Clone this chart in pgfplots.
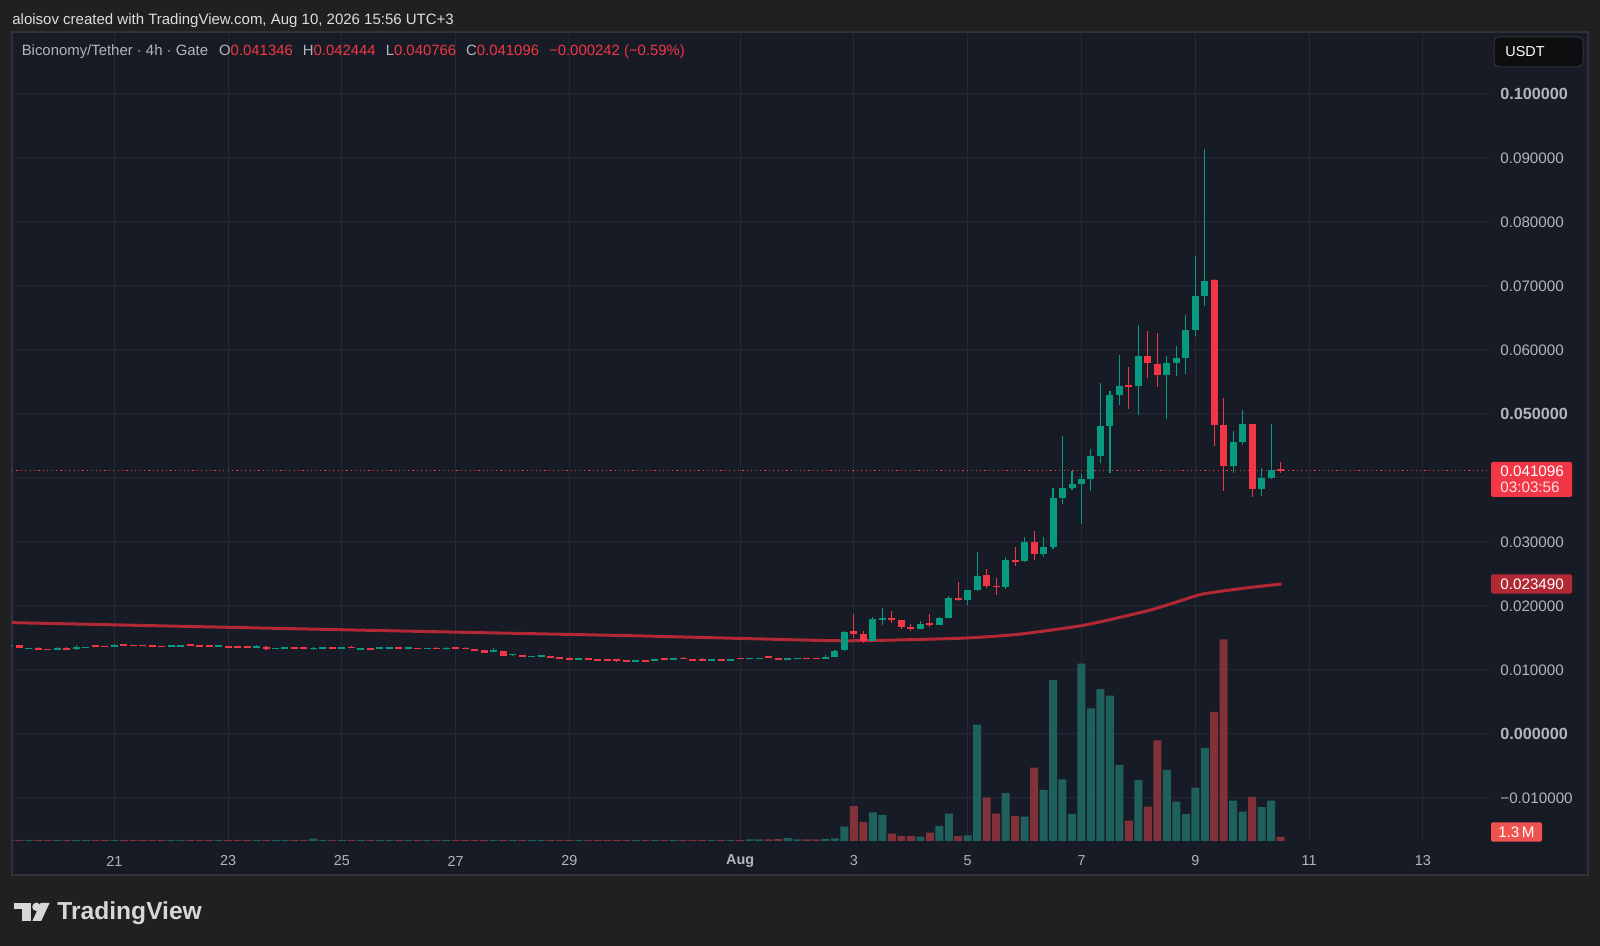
\documentclass[border=0pt]{standalone}
\usepackage{fontspec}
\setmainfont{Liberation Sans}
\usepackage{pgfplots}
\usepackage{pgfplotstable}
\pgfplotsset{compat=1.18}
\definecolor{outerbg}{RGB}{32,32,32}
\definecolor{panelbg}{RGB}{23,27,37}
\definecolor{panelborder}{RGB}{48,50,56}
\definecolor{gridcol}{RGB}{38,42,54}
\definecolor{candgreen}{RGB}{8,153,129}
\definecolor{candred}{RGB}{242,54,69}
\definecolor{volgreen}{RGB}{30,96,92}
\definecolor{volred}{RGB}{128,50,56}
\definecolor{macol}{RGB}{178,40,52}
\definecolor{axistext}{RGB}{178,181,190}
\definecolor{headtext}{RGB}{222,222,222}
\definecolor{usdtbg}{RGB}{14,14,16}
\definecolor{usdtborder}{RGB}{50,52,58}
\definecolor{pinkwhite}{RGB}{255,225,228}
\definecolor{volbox}{RGB}{239,83,80}
\definecolor{logocol}{RGB}{215,215,215}

\pgfplotstableread{
k o h l c v
-1 0.01370 0.01380 0.01365 0.01376 0.35
0 0.01385 0.01398 0.01340 0.01344 0.35
1 0.01337 0.01343 0.01335 0.01341 0.35
2 0.01335 0.01360 0.01315 0.01331 0.35
3 0.01325 0.01327 0.01319 0.01321 0.35
4 0.01318 0.01352 0.01315 0.01349 0.35
5 0.01335 0.01355 0.01318 0.01331 0.35
6 0.01323 0.01390 0.01320 0.01365 0.35
7 0.01352 0.01358 0.01350 0.01356 0.35
8 0.01377 0.01379 0.01371 0.01373 0.35
9 0.01372 0.01374 0.01366 0.01368 0.35
10 0.01354 0.01400 0.01352 0.01396 0.35
11 0.01398 0.01412 0.01390 0.01394 0.35
12 0.01387 0.01389 0.01381 0.01383 0.35
13 0.01387 0.01389 0.01381 0.01383 0.35
14 0.01377 0.01379 0.01371 0.01373 0.35
15 0.01372 0.01374 0.01366 0.01368 0.35
16 0.01373 0.01379 0.01371 0.01377 0.35
17 0.01378 0.01384 0.01376 0.01382 0.35
18 0.01401 0.01404 0.01368 0.01370 0.35
19 0.01377 0.01379 0.01371 0.01373 0.35
20 0.01377 0.01379 0.01371 0.01373 0.35
21 0.01373 0.01379 0.01371 0.01377 0.35
22 0.01367 0.01369 0.01361 0.01363 0.35
23 0.01367 0.01369 0.01361 0.01363 0.35
24 0.01367 0.01369 0.01361 0.01363 0.35
25 0.01363 0.01385 0.01350 0.01367 0.35
26 0.01365 0.01368 0.01320 0.01323 0.35
27 0.01337 0.01343 0.01335 0.01341 0.35
28 0.01347 0.01353 0.01345 0.01351 0.35
29 0.01351 0.01353 0.01345 0.01347 0.35
30 0.01346 0.01348 0.01340 0.01342 0.35
31 0.01337 0.01352 0.01320 0.01341 0.8
32 0.01347 0.01353 0.01345 0.01351 0.35
33 0.01351 0.01353 0.01345 0.01347 0.35
34 0.01347 0.01353 0.01345 0.01351 0.35
35 0.01356 0.01375 0.01345 0.01352 0.35
36 0.01331 0.01337 0.01329 0.01335 0.35
37 0.01330 0.01332 0.01324 0.01326 0.35
38 0.01347 0.01353 0.01345 0.01351 0.35
39 0.01347 0.01353 0.01345 0.01351 0.35
40 0.01351 0.01353 0.01345 0.01347 0.35
41 0.01342 0.01360 0.01330 0.01346 0.35
42 0.01341 0.01343 0.01335 0.01337 0.35
43 0.01337 0.01343 0.01335 0.01341 0.35
44 0.01341 0.01360 0.01328 0.01337 0.35
45 0.01323 0.01355 0.01320 0.01349 0.35
46 0.01351 0.01353 0.01345 0.01347 0.35
47 0.01341 0.01360 0.01325 0.01337 0.35
48 0.01320 0.01322 0.01314 0.01316 0.35
49 0.01307 0.01312 0.01268 0.01271 0.35
50 0.01292 0.01339 0.01288 0.01299 0.35
51 0.01297 0.01300 0.01220 0.01224 0.35
52 0.01243 0.01250 0.01215 0.01247 0.35
53 0.01221 0.01223 0.01215 0.01217 0.35
54 0.01212 0.01218 0.01210 0.01216 0.35
55 0.01222 0.01240 0.01212 0.01226 0.35
56 0.01219 0.01222 0.01185 0.01188 0.35
57 0.01195 0.01210 0.01185 0.01191 0.35
58 0.01193 0.01196 0.01153 0.01156 0.35
59 0.01170 0.01176 0.01168 0.01174 0.35
60 0.01174 0.01176 0.01168 0.01170 0.35
61 0.01163 0.01165 0.01157 0.01159 0.35
62 0.01158 0.01175 0.01148 0.01154 0.35
63 0.01158 0.01165 0.01120 0.01154 0.35
64 0.01148 0.01150 0.01142 0.01144 0.35
65 0.01144 0.01160 0.01130 0.01148 0.35
66 0.01148 0.01150 0.01142 0.01144 0.35
67 0.01146 0.01178 0.01143 0.01172 0.35
68 0.01179 0.01181 0.01173 0.01175 0.35
69 0.01175 0.01181 0.01173 0.01179 0.35
70 0.01184 0.01200 0.01175 0.01180 0.35
71 0.01163 0.01165 0.01157 0.01159 0.35
72 0.01177 0.01180 0.01143 0.01146 0.35
73 0.01159 0.01165 0.01157 0.01163 0.35
74 0.01163 0.01165 0.01157 0.01159 0.35
75 0.01159 0.01165 0.01157 0.01163 0.35
76 0.01184 0.01186 0.01178 0.01180 0.35
77 0.01180 0.01186 0.01178 0.01184 0.5
78 0.01180 0.01186 0.01178 0.01184 0.5
79 0.01205 0.01210 0.01199 0.01201 0.5
80 0.01182 0.01185 0.01153 0.01156 0.6
81 0.01175 0.01181 0.01173 0.01179 0.9
82 0.01180 0.01186 0.01178 0.01184 0.5
83 0.01184 0.01186 0.01178 0.01180 0.5
84 0.01184 0.01186 0.01178 0.01180 0.5
85 0.01177 0.01240 0.01172 0.01208 0.65
86 0.01203 0.01318 0.01198 0.01302 0.87
87 0.01307 0.01610 0.01300 0.01594 4.7
88 0.01604 0.01875 0.01495 0.01568 11.4
89 0.01563 0.01604 0.01427 0.01453 6.1
90 0.01453 0.01823 0.01453 0.01797 9.3
91 0.01797 0.01969 0.01708 0.01810 8.5
92 0.01807 0.01917 0.01740 0.01776 2.4
93 0.01776 0.01776 0.01635 0.01677 1.6
94 0.01667 0.01724 0.01609 0.01641 1.6
95 0.01641 0.01760 0.01635 0.01724 1.4
96 0.01729 0.01875 0.01667 0.01708 2.7
97 0.01708 0.01833 0.01708 0.01813 4.9
98 0.01813 0.02156 0.01813 0.02130 8.9
99 0.02130 0.02370 0.02078 0.02094 1.6
100 0.02094 0.02250 0.02021 0.02250 1.8
101 0.02250 0.02849 0.02240 0.02469 37.8
102 0.02479 0.02578 0.02286 0.02313 14.1
103 0.02313 0.02432 0.02177 0.02300 8.9
104 0.02300 0.02766 0.02271 0.02714 15.6
105 0.02714 0.02922 0.02625 0.02700 8.1
106 0.02700 0.03078 0.02690 0.03005 7.9
107 0.03005 0.03172 0.02714 0.02807 23.8
108 0.02807 0.03078 0.02771 0.02917 16.6
109 0.02917 0.03839 0.02896 0.03682 52.2
110 0.03682 0.04656 0.03594 0.03844 20.0
111 0.03844 0.04109 0.03818 0.03911 8.8
112 0.03911 0.04057 0.03286 0.03984 57.6
113 0.03984 0.04453 0.03802 0.04344 43.1
114 0.04344 0.05490 0.04229 0.04807 49.3
115 0.04807 0.05359 0.04083 0.05292 47.2
116 0.05292 0.05917 0.05141 0.05443 24.7
117 0.05443 0.05734 0.05083 0.05430 6.6
118 0.05430 0.06391 0.04984 0.05911 19.8
119 0.05911 0.06297 0.05568 0.05802 11.2
120 0.05776 0.06266 0.05427 0.05615 32.7
121 0.05615 0.05906 0.04927 0.05802 23.1
122 0.05802 0.06063 0.05594 0.05875 12.8
123 0.05875 0.06542 0.05630 0.06307 8.8
124 0.06307 0.07469 0.06214 0.06839 17.3
125 0.06839 0.09141 0.06688 0.07083 30.2
126 0.07094 0.07105 0.04500 0.04828 41.9
127 0.04828 0.05245 0.03802 0.04182 65.5
128 0.04182 0.04734 0.04083 0.04557 13.1
129 0.04557 0.05063 0.04510 0.04844 9.5
130 0.04844 0.04844 0.03708 0.03833 14.3
131 0.03833 0.04156 0.03719 0.03995 11.0
132 0.03995 0.04844 0.03979 0.04120 13.1
133 0.041346 0.042444 0.040766 0.041096 1.3
}\candles

\pgfplotsset{
  chartgeom/.style={at={(6pt,52.5pt)}, anchor=south west, scale only axis,
    width=739pt, height=404.5pt, xmin=19.202, xmax=45.18},
  pricey/.style={ymin=-0.016719, ymax=0.10969},
  nomark/.style={only marks, mark=*, mark size=0pt, mark options={draw=none, fill=none}},
}

\begin{document}
\begin{tikzpicture}[x=1pt,y=1pt]
\useasboundingbox (0,0) rectangle (800,473);
\fill[outerbg] (0,0) rectangle (800,473);
\fill[panelbg] (6,35.5) rectangle (794,457);
\draw[panelborder, line width=0.6pt] (6,35.5) rectangle (794,457);

% grid and tick labels
\begin{axis}[chartgeom, pricey,
  axis line style={draw=none}, tick style={draw=none},
  grid=major, grid style={gridcol, line width=0.5pt},
  xtick={21,23,25,27,29,32,34,36,38,40,42,44},
  xticklabels={21,23,25,27,29,\textbf{Aug},3,5,7,9,11,13},
  xticklabel style={anchor=center, yshift=-10pt, text=axistext, font=\fontsize{7.2}{8}\selectfont},
  ytick={-0.01,0,0.01,0.02,0.03,0.04,0.05,0.06,0.07,0.08,0.09,0.1},
  yticklabels={−0.010000,{\fontsize{8.1}{8}\selectfont\bfseries 0.000000},0.010000,0.020000,0.030000,{},{\fontsize{8.1}{8}\selectfont\bfseries 0.050000},0.060000,0.070000,0.080000,0.090000,{\fontsize{8.1}{8}\selectfont\bfseries 0.100000}},
  yticklabel pos=right,
  yticklabel style={anchor=west, inner sep=0pt, xshift=5pt, text=axistext, font=\fontsize{7.6}{8}\selectfont},
]
\end{axis}

% volume
\begin{axis}[chartgeom, ymin=0, ymax=262.7, hide axis]
\addplot[ybar, bar width=4pt, bar shift=0pt, fill=volgreen, draw=none,
  restrict expr to domain={\thisrow{c}-\thisrow{o}}{0:1}]
  table[x expr=19.3333333+\thisrow{k}/6, y=v]{\candles};
\addplot[ybar, bar width=4pt, bar shift=0pt, fill=volred, draw=none,
  restrict expr to domain={\thisrow{c}-\thisrow{o}}{-1:0}]
  table[x expr=19.3333333+\thisrow{k}/6, y=v]{\candles};
\end{axis}

% price: last-price line, moving average, candles
\begin{axis}[chartgeom, pricey, hide axis]
\addplot[candred, line width=0.5pt, dash pattern=on 0.6pt off 1.6pt]
  coordinates {(19.202,0.041096) (45.18,0.041096)};
\addplot[macol, line width=1.5pt, smooth, tension=0.4]
  coordinates {(19.202,0.01740) (26.373,0.01603) (30.064,0.01536) (33.403,0.01462)
  (34.106,0.01458) (34.809,0.01470) (35.986,0.01500) (36.918,0.01560) (38.002,0.01693)
  (38.676,0.01823) (39.256,0.01948) (39.819,0.02104) (40.135,0.02188) (40.838,0.02276)
  (41.517,0.02344)};
% wicks
\addplot[nomark,
  restrict expr to domain={\thisrow{c}-\thisrow{o}}{0:1},
  error bars/.cd, y dir=both, y explicit, error mark=none,
  error bar style={line width=0.55pt, candgreen, solid}]
  table[x expr=19.3333333+\thisrow{k}/6, y expr=(\thisrow{h}+\thisrow{l})/2,
        y error expr=(\thisrow{h}-\thisrow{l})/2]{\candles};
\addplot[nomark,
  restrict expr to domain={\thisrow{c}-\thisrow{o}}{-1:0},
  error bars/.cd, y dir=both, y explicit, error mark=none,
  error bar style={line width=0.55pt, candred, solid}]
  table[x expr=19.3333333+\thisrow{k}/6, y expr=(\thisrow{h}+\thisrow{l})/2,
        y error expr=(\thisrow{h}-\thisrow{l})/2]{\candles};
% bodies
\addplot[nomark,
  restrict expr to domain={\thisrow{c}-\thisrow{o}}{0:1},
  error bars/.cd, y dir=both, y explicit, error mark=none,
  error bar style={line width=3.5pt, candgreen, solid}]
  table[x expr=19.3333333+\thisrow{k}/6, y expr=(\thisrow{o}+\thisrow{c})/2,
        y error expr={max(abs(\thisrow{o}-\thisrow{c})/2,0.0001)}]{\candles};
\addplot[nomark,
  restrict expr to domain={\thisrow{c}-\thisrow{o}}{-1:0},
  error bars/.cd, y dir=both, y explicit, error mark=none,
  error bar style={line width=3.5pt, candred, solid}]
  table[x expr=19.3333333+\thisrow{k}/6, y expr=(\thisrow{o}+\thisrow{c})/2,
        y error expr={max(abs(\thisrow{o}-\thisrow{c})/2,0.0001)}]{\candles};
\end{axis}

% header
\node[anchor=west, inner sep=0pt, text=headtext, font=\fontsize{7.5}{8}\selectfont] at (6,462.6) {aloisov created with TradingView.com, Aug 10, 2026 15:56 UTC+3};
\node[anchor=west, inner sep=0pt, font=\fontsize{7.45}{8}\selectfont] at (10.7,447)
 {\textcolor{axistext}{Biconomy/Tether · 4h · Gate}\hspace{5.5pt}\textcolor{axistext}{O}\textcolor{candred}{0.041346}\hspace{5pt}\textcolor{axistext}{H}\textcolor{candred}{0.042444}\hspace{5pt}\textcolor{axistext}{L}\textcolor{candred}{0.040766}\hspace{5pt}\textcolor{axistext}{C}\textcolor{candred}{0.041096}\hspace{5pt}\textcolor{candred}{−0.000242 (−0.59\%)}};

% USDT box
\draw[fill=usdtbg, draw=usdtborder, line width=0.5pt, rounded corners=2.5pt] (747,454.6) rectangle (791.5,439.6);
\node[anchor=west, inner sep=0pt, text=white, font=\fontsize{7.2}{8}\selectfont] at (752.5,447.1) {USDT};

% last price box
\fill[candred, rounded corners=1pt] (745.5,242) rectangle (786,224.5);
\node[anchor=west, inner sep=0pt, text=white, font=\fontsize{7.6}{8}\selectfont] at (750,237.4) {0.041096};
\node[anchor=west, inner sep=0pt, text=pinkwhite, font=\fontsize{7.6}{8}\selectfont] at (750,229.3) {03:03:56};

% MA box
\fill[macol, rounded corners=1pt] (745.5,185.85) rectangle (786,176.15);
\node[anchor=west, inner sep=0pt, text=white, font=\fontsize{7.6}{8}\selectfont] at (750,181) {0.023490};

% volume box
\fill[volbox, rounded corners=1pt] (745.5,61.85) rectangle (771,52.15);
\node[anchor=center, inner sep=0pt, text=white, font=\fontsize{7.6}{8}\selectfont] at (758.2,57) {1.3\,M};

% TradingView logo
\fill[logocol] (7,21.5) rectangle (15.5,18.5);
\fill[logocol] (11,21.5) rectangle (15.5,12.5);
\fill[logocol] (18.2,19.6) circle (2.1);
\fill[logocol] (20.3,21.5) -- (24.8,21.5) -- (20.6,12.5) -- (16.2,12.5) -- cycle;
\node[anchor=west, inner sep=0pt, text=logocol, font=\bfseries\fontsize{12.3}{13}\selectfont] at (28.5,16.6) {TradingView};
\end{tikzpicture}
\end{document}
